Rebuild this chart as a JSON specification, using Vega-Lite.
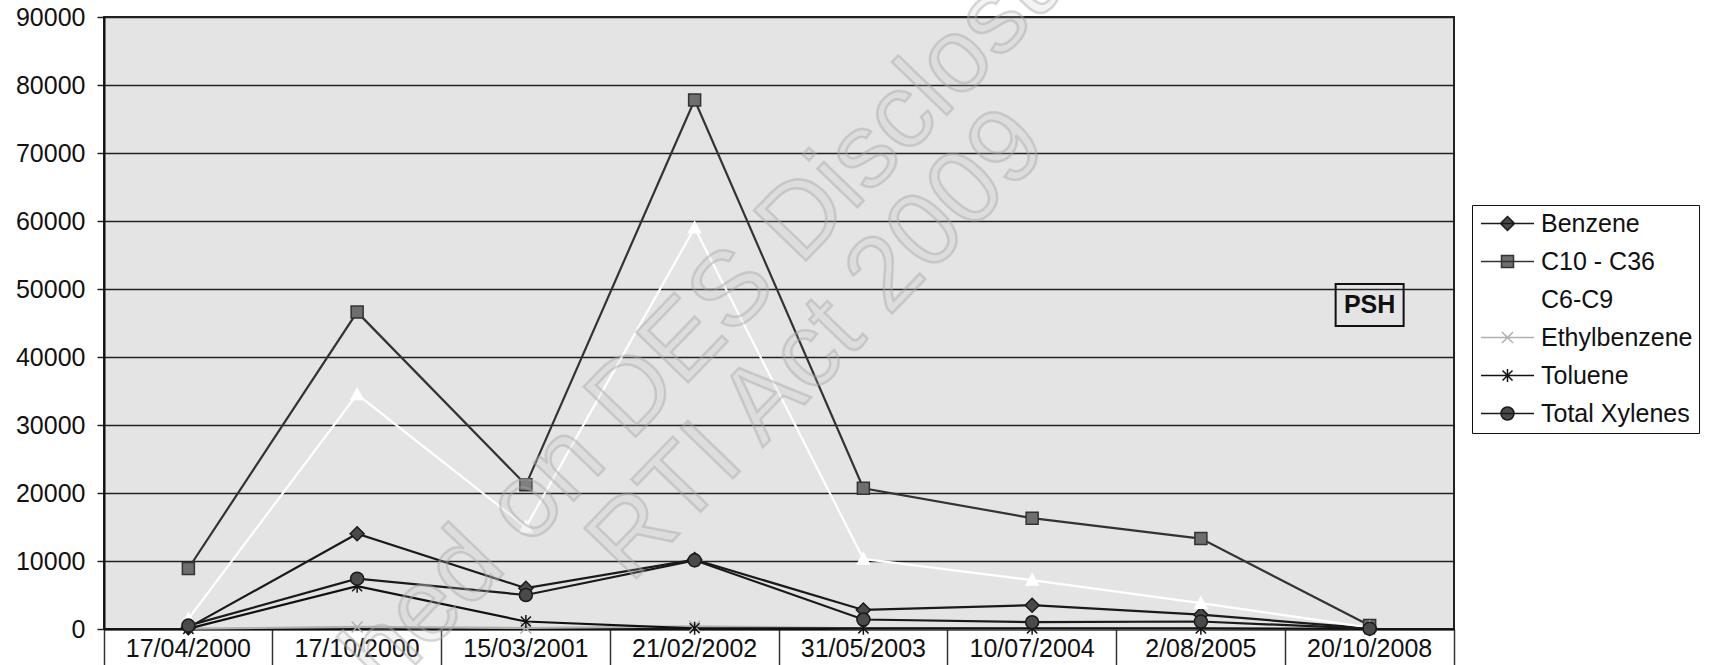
{
  "$schema": "https://vega.github.io/schema/vega-lite/v6.json",
  "width": 1350,
  "height": 612,
  "autosize": "none",
  "padding": {"left": 104, "top": 17, "right": 256, "bottom": 36},
  "background": "#ffffff",
  "config": {
    "font": "Liberation Sans",
    "view": {"fill": "#e4e4e4", "stroke": "#222222", "strokeWidth": 2}
  },
  "data": {
    "values": [
      {"date": "17/04/2000", "series": "Benzene", "value": 200},
      {"date": "17/10/2000", "series": "Benzene", "value": 14000},
      {"date": "15/03/2001", "series": "Benzene", "value": 6000},
      {"date": "21/02/2002", "series": "Benzene", "value": 10200},
      {"date": "31/05/2003", "series": "Benzene", "value": 2800},
      {"date": "10/07/2004", "series": "Benzene", "value": 3500},
      {"date": "2/08/2005", "series": "Benzene", "value": 2100},
      {"date": "20/10/2008", "series": "Benzene", "value": 100},
      {"date": "17/04/2000", "series": "C10 - C36", "value": 8900},
      {"date": "17/10/2000", "series": "C10 - C36", "value": 46600},
      {"date": "15/03/2001", "series": "C10 - C36", "value": 21200},
      {"date": "21/02/2002", "series": "C10 - C36", "value": 77800},
      {"date": "31/05/2003", "series": "C10 - C36", "value": 20700},
      {"date": "10/07/2004", "series": "C10 - C36", "value": 16300},
      {"date": "2/08/2005", "series": "C10 - C36", "value": 13300},
      {"date": "20/10/2008", "series": "C10 - C36", "value": 500},
      {"date": "17/04/2000", "series": "C6-C9", "value": 1500},
      {"date": "17/10/2000", "series": "C6-C9", "value": 34500},
      {"date": "15/03/2001", "series": "C6-C9", "value": 15000},
      {"date": "21/02/2002", "series": "C6-C9", "value": 59000},
      {"date": "31/05/2003", "series": "C6-C9", "value": 10300},
      {"date": "10/07/2004", "series": "C6-C9", "value": 7200},
      {"date": "2/08/2005", "series": "C6-C9", "value": 3800},
      {"date": "20/10/2008", "series": "C6-C9", "value": 200},
      {"date": "17/04/2000", "series": "Ethylbenzene", "value": 50},
      {"date": "17/10/2000", "series": "Ethylbenzene", "value": 300},
      {"date": "15/03/2001", "series": "Ethylbenzene", "value": 150},
      {"date": "21/02/2002", "series": "Ethylbenzene", "value": 400},
      {"date": "31/05/2003", "series": "Ethylbenzene", "value": 80},
      {"date": "10/07/2004", "series": "Ethylbenzene", "value": 60},
      {"date": "2/08/2005", "series": "Ethylbenzene", "value": 60},
      {"date": "20/10/2008", "series": "Ethylbenzene", "value": 10},
      {"date": "17/04/2000", "series": "Toluene", "value": 50},
      {"date": "17/10/2000", "series": "Toluene", "value": 6300},
      {"date": "15/03/2001", "series": "Toluene", "value": 1100},
      {"date": "21/02/2002", "series": "Toluene", "value": 100},
      {"date": "31/05/2003", "series": "Toluene", "value": 100},
      {"date": "10/07/2004", "series": "Toluene", "value": 100},
      {"date": "2/08/2005", "series": "Toluene", "value": 100},
      {"date": "20/10/2008", "series": "Toluene", "value": 10},
      {"date": "17/04/2000", "series": "Total Xylenes", "value": 500},
      {"date": "17/10/2000", "series": "Total Xylenes", "value": 7400},
      {"date": "15/03/2001", "series": "Total Xylenes", "value": 5000},
      {"date": "21/02/2002", "series": "Total Xylenes", "value": 10100},
      {"date": "31/05/2003", "series": "Total Xylenes", "value": 1400},
      {"date": "10/07/2004", "series": "Total Xylenes", "value": 1000},
      {"date": "2/08/2005", "series": "Total Xylenes", "value": 1100},
      {"date": "20/10/2008", "series": "Total Xylenes", "value": 50}
    ]
  },
  "resolve": {"scale": {"shape": "independent", "fill": "independent", "stroke": "independent"}},
  "encoding": {
    "x": {
      "field": "date",
      "type": "nominal",
      "scale": {
        "type": "band",
        "paddingInner": 0,
        "paddingOuter": 0,
        "domain": ["17/04/2000", "17/10/2000", "15/03/2001", "21/02/2002", "31/05/2003", "10/07/2004", "2/08/2005", "20/10/2008"]
      },
      "axis": {
        "title": null,
        "bandPosition": 1,
        "tickExtra": true,
        "tickSize": 36,
        "tickWidth": 1.5,
        "tickColor": "#333333",
        "labelFontSize": 25,
        "labelPadding": -29,
        "labelAngle": 0,
        "labelBaseline": "top",
        "labelColor": "#111111",
        "domainColor": "#111111",
        "domainWidth": 2,
        "grid": false,
        "labelOverlap": false
      }
    },
    "y": {
      "field": "value",
      "type": "quantitative",
      "scale": {"domain": [0, 90000], "nice": false, "zero": true},
      "axis": {
        "title": null,
        "values": [0, 10000, 20000, 30000, 40000, 50000, 60000, 70000, 80000, 90000],
        "format": "d",
        "grid": true,
        "gridColor": "#222222",
        "gridWidth": 1.5,
        "tickSize": 7,
        "tickWidth": 1.5,
        "tickColor": "#222222",
        "labelFontSize": 25,
        "labelPadding": 12,
        "labelColor": "#111111",
        "domainColor": "#111111",
        "domainWidth": 2,
        "labelFlush": false,
        "labelOverlap": false
      }
    }
  },
  "layer": [
    {
      "mark": {"type": "line", "strokeWidth": 2.2},
      "encoding": {
        "stroke": {
          "field": "series",
          "type": "nominal",
          "scale": {
            "domain": ["Benzene", "C10 - C36", "C6-C9", "Ethylbenzene", "Toluene", "Total Xylenes"],
            "range": ["#1a1a1a", "#333333", "#ffffff", "#b0b0b0", "#111111", "#1a1a1a"]
          },
          "legend": null
        }
      }
    },
    {
      "mark": {"type": "point", "filled": true, "size": 400, "opacity": 1, "strokeWidth": 1.5},
      "encoding": {
        "shape": {
          "field": "series",
          "type": "nominal",
          "scale": {
            "domain": ["Benzene", "C10 - C36", "C6-C9", "Ethylbenzene", "Toluene", "Total Xylenes"],
            "range": [
              "M0,-0.7L0.7,0L0,0.7L-0.7,0Z",
              "M-0.6,-0.6L0.6,-0.6L0.6,0.6L-0.6,0.6Z",
              "M0,-0.6L0.6,0.5L-0.6,0.5Z",
              "M-0.55,-0.55L0.55,0.55M-0.55,0.55L0.55,-0.55",
              "M-0.5,-0.5L0.5,0.5M-0.5,0.5L0.5,-0.5M0,-0.65L0,0.65",
              "M-0.65,0A0.65,0.65,0,1,1,0.65,0A0.65,0.65,0,1,1,-0.65,0Z"
            ]
          },
          "legend": null
        },
        "fill": {
          "field": "series",
          "type": "nominal",
          "scale": {
            "domain": ["Benzene", "C10 - C36", "C6-C9", "Ethylbenzene", "Toluene", "Total Xylenes"],
            "range": ["#4a4a4a", "#6e6e6e", "#ffffff", "#b0b0b0", "#111111", "#4a4a4a"]
          },
          "legend": null
        },
        "stroke": {
          "field": "series",
          "type": "nominal",
          "scale": {
            "domain": ["Benzene", "C10 - C36", "C6-C9", "Ethylbenzene", "Toluene", "Total Xylenes"],
            "range": ["#1a1a1a", "#333333", "#ffffff", "#b0b0b0", "#111111", "#1a1a1a"]
          },
          "legend": null
        }
      }
    },
    {
      "mark": {"type": "point", "filled": true, "size": 400, "opacity": 0, "strokeWidth": 1.5},
      "encoding": {
        "shape": {
          "field": "series",
          "type": "nominal",
          "scale": {
            "range": [
              "M-2.65,0L2.65,0M0,-0.7L0.7,0L0,0.7L-0.7,0Z",
              "M-2.65,0L2.65,0M-0.6,-0.6L0.6,-0.6L0.6,0.6L-0.6,0.6Z",
              "M-2.65,0L2.65,0M0,-0.6L0.6,0.5L-0.6,0.5Z",
              "M-2.65,0L2.65,0M-0.55,-0.55L0.55,0.55M-0.55,0.55L0.55,-0.55",
              "M-2.65,0L2.65,0M-0.5,-0.5L0.5,0.5M-0.5,0.5L0.5,-0.5M0,-0.65L0,0.65",
              "M-2.65,0L2.65,0M-0.65,0A0.65,0.65,0,1,1,0.65,0A0.65,0.65,0,1,1,-0.65,0Z"
            ]
          },
          "legend": {
            "title": null,
            "orient": "none",
            "legendX": 1368,
            "legendY": 188,
            "direction": "vertical",
            "fillColor": "#ffffff",
            "strokeColor": "#111111",
            "padding": 6,
            "labelFontSize": 25,
            "labelColor": "#111111",
            "labelOffset": 21,
            "labelLimit": 300,
            "symbolOffset": 17,
            "symbolSize": 400,
            "rowPadding": 12,
            "symbolStrokeWidth": 1.5,
            "symbolOpacity": 1
          }
        },
        "fill": {
          "field": "series",
          "type": "nominal",
          "scale": {"range": ["#4a4a4a", "#6e6e6e", "#ffffff", "#b0b0b0", "#111111", "#4a4a4a"]},
          "legend": {
            "title": null,
            "orient": "none",
            "legendX": 1368,
            "legendY": 188,
            "direction": "vertical",
            "fillColor": "#ffffff",
            "strokeColor": "#111111",
            "padding": 6,
            "labelFontSize": 25,
            "labelColor": "#111111",
            "labelOffset": 21,
            "labelLimit": 300,
            "symbolOffset": 17,
            "symbolSize": 400,
            "rowPadding": 12,
            "symbolStrokeWidth": 1.5,
            "symbolOpacity": 1
          }
        },
        "stroke": {
          "field": "series",
          "type": "nominal",
          "scale": {"range": ["#1a1a1a", "#333333", "#ffffff", "#b0b0b0", "#111111", "#1a1a1a"]},
          "legend": {
            "title": null,
            "orient": "none",
            "legendX": 1368,
            "legendY": 188,
            "direction": "vertical",
            "fillColor": "#ffffff",
            "strokeColor": "#111111",
            "padding": 6,
            "labelFontSize": 25,
            "labelColor": "#111111",
            "labelOffset": 21,
            "labelLimit": 300,
            "symbolOffset": 17,
            "symbolSize": 400,
            "rowPadding": 12,
            "symbolStrokeWidth": 1.5,
            "symbolOpacity": 1
          }
        }
      }
    },
    {
      "transform": [{"filter": "datum.series === 'Benzene' && datum.date === '20/10/2008'"}],
      "mark": {"type": "point", "shape": "M-3.4,-2.1L3.4,-2.1L3.4,2.1L-3.4,2.1Z", "size": 400, "filled": false, "stroke": "#111111", "strokeWidth": 2, "opacity": 1},
      "encoding": {
        "x": {"datum": "20/10/2008"},
        "y": {"datum": 47650}
      }
    },
    {
      "transform": [{"filter": "datum.series === 'Benzene' && datum.date === '20/10/2008'"}],
      "mark": {"type": "text", "text": "PSH", "fontSize": 25, "fontWeight": "bold", "align": "center", "baseline": "middle", "fill": "#111111"},
      "encoding": {
        "x": {"datum": "20/10/2008"},
        "y": {"datum": 47650}
      }
    },
    {
      "transform": [{"filter": "datum.series === 'Benzene' && datum.date === '20/10/2008'"}],
      "mark": {"type": "text", "text": "Published on DES Disclosure Log", "fontSize": 105, "angle": -46, "align": "center", "baseline": "middle", "dx": 25, "fill": "#c4c4c4", "fillOpacity": 0.2, "stroke": "#a8a8a8", "strokeWidth": 2.5, "strokeOpacity": 0.45},
      "encoding": {
        "x": {"datum": "21/02/2002"},
        "y": {"datum": 44000}
      }
    },
    {
      "transform": [{"filter": "datum.series === 'Benzene' && datum.date === '20/10/2008'"}],
      "mark": {"type": "text", "text": "RTI Act 2009", "fontSize": 105, "angle": -46, "align": "center", "baseline": "middle", "dx": -66, "fill": "#c4c4c4", "fillOpacity": 0.2, "stroke": "#a8a8a8", "strokeWidth": 2.5, "strokeOpacity": 0.45},
      "encoding": {
        "x": {"datum": "31/05/2003"},
        "y": {"datum": 48800}
      }
    }
  ]
}
